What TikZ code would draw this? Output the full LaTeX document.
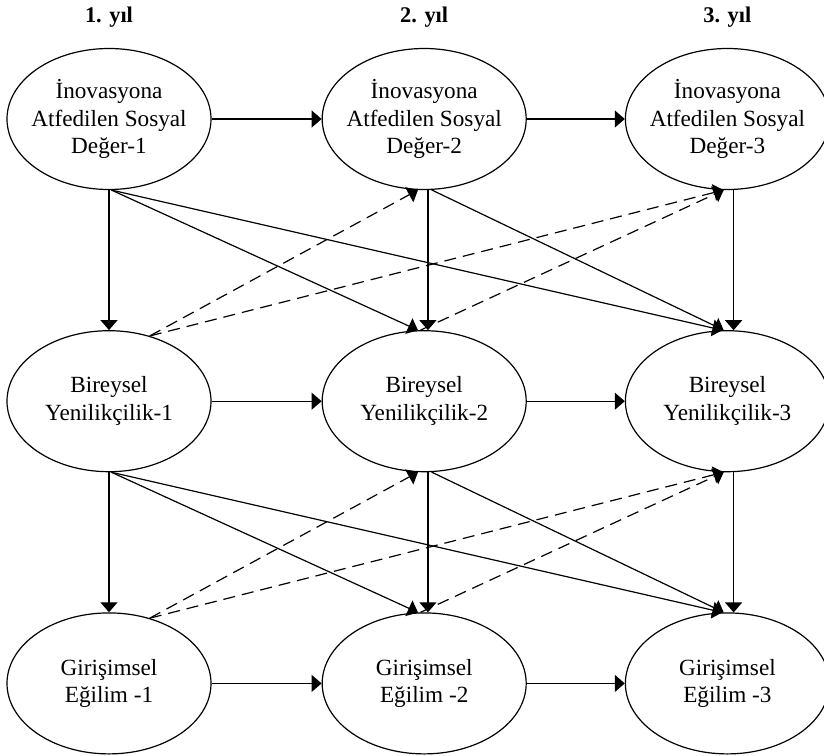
\documentclass[tikz,border=0pt]{standalone}
\usepackage{fontspec}
\setmainfont{Liberation Serif}
\usetikzlibrary{arrows.meta,positioning,shapes.geometric}

\begin{document}
\begin{tikzpicture}[->,>={Triangle[length=5pt,width=8.5pt]},line width=0.6pt,
  var node/.style={ellipse,draw,minimum width=102pt,minimum height=70.5pt,inner xsep=-12pt,align=center,font=\fontsize{11.6}{13.8}\selectfont},
  year node/.style={inner sep=0pt,font=\fontsize{11.2}{13}\selectfont\bfseries},
  lag/.style={dash pattern=on 6pt off 3.5pt}]

  \useasboundingbox (-54.5pt,59.5pt) rectangle (357.5pt,-318pt);

  \node[var node] (s1) at (0,0) {İnovasyona\\Atfedilen Sosyal\\Değer-1};
  \node[var node] (s2) [right=55pt of s1] {İnovasyona\\Atfedilen Sosyal\\Değer-2};
  \node[var node] (s3) [right=49pt of s2] {İnovasyona\\Atfedilen Sosyal\\Değer-3};
  \node[var node] (b1) [below=70pt of s1] {Bireysel\\Yenilikçilik-1};
  \node[var node] (b2) [below=70pt of s2] {Bireysel\\Yenilikçilik-2};
  \node[var node] (b3) [below=70pt of s3] {Bireysel\\Yenilikçilik-3};
  \node[var node] (g1) [below=70pt of b1] {Girişimsel\\Eğilim -1};
  \node[var node] (g2) [below=70pt of b2] {Girişimsel\\Eğilim -2};
  \node[var node] (g3) [below=70pt of b3] {Girişimsel\\Eğilim -3};

  \node[year node] (y1) [above=10pt of s1] {1. yıl};
  \node[year node] (y2) [above=10pt of s2] {2. yıl};
  \node[year node] (y3) [above=10pt of s3] {3. yıl};

  % same variable, next year
  \path (s1) edge (s2)
        (s2) edge (s3)
        (b1) edge (b2)
        (b2) edge (b3)
        (g1) edge (g2)
        (g2) edge (g3);

  % top row to middle row
  \path (s1.south) edge (b1.north)
        (s2.-87) edge (b2.87)
        (s3.-85) edge (b3.85)
        (s1.-88) edge (b2.95)
                 edge (b3.94)
        (s2.-84) edge (b3.93)
        (b1.58) edge[lag] (s2.-95)
                edge[lag] (s3.-93)
        (b2.93) edge[lag] (s3.-93);

  % middle row to bottom row
  \path (b1.south) edge (g1.north)
        (b2.-87) edge (g2.87)
        (b3.-85) edge (g3.85)
        (b1.-88) edge (g2.95)
                 edge (g3.94)
        (b2.-84) edge (g3.93)
        (g1.58) edge[lag] (b2.-95)
                edge[lag] (b3.-93)
        (g2.93) edge[lag] (b3.-93);
\end{tikzpicture}
\end{document}
